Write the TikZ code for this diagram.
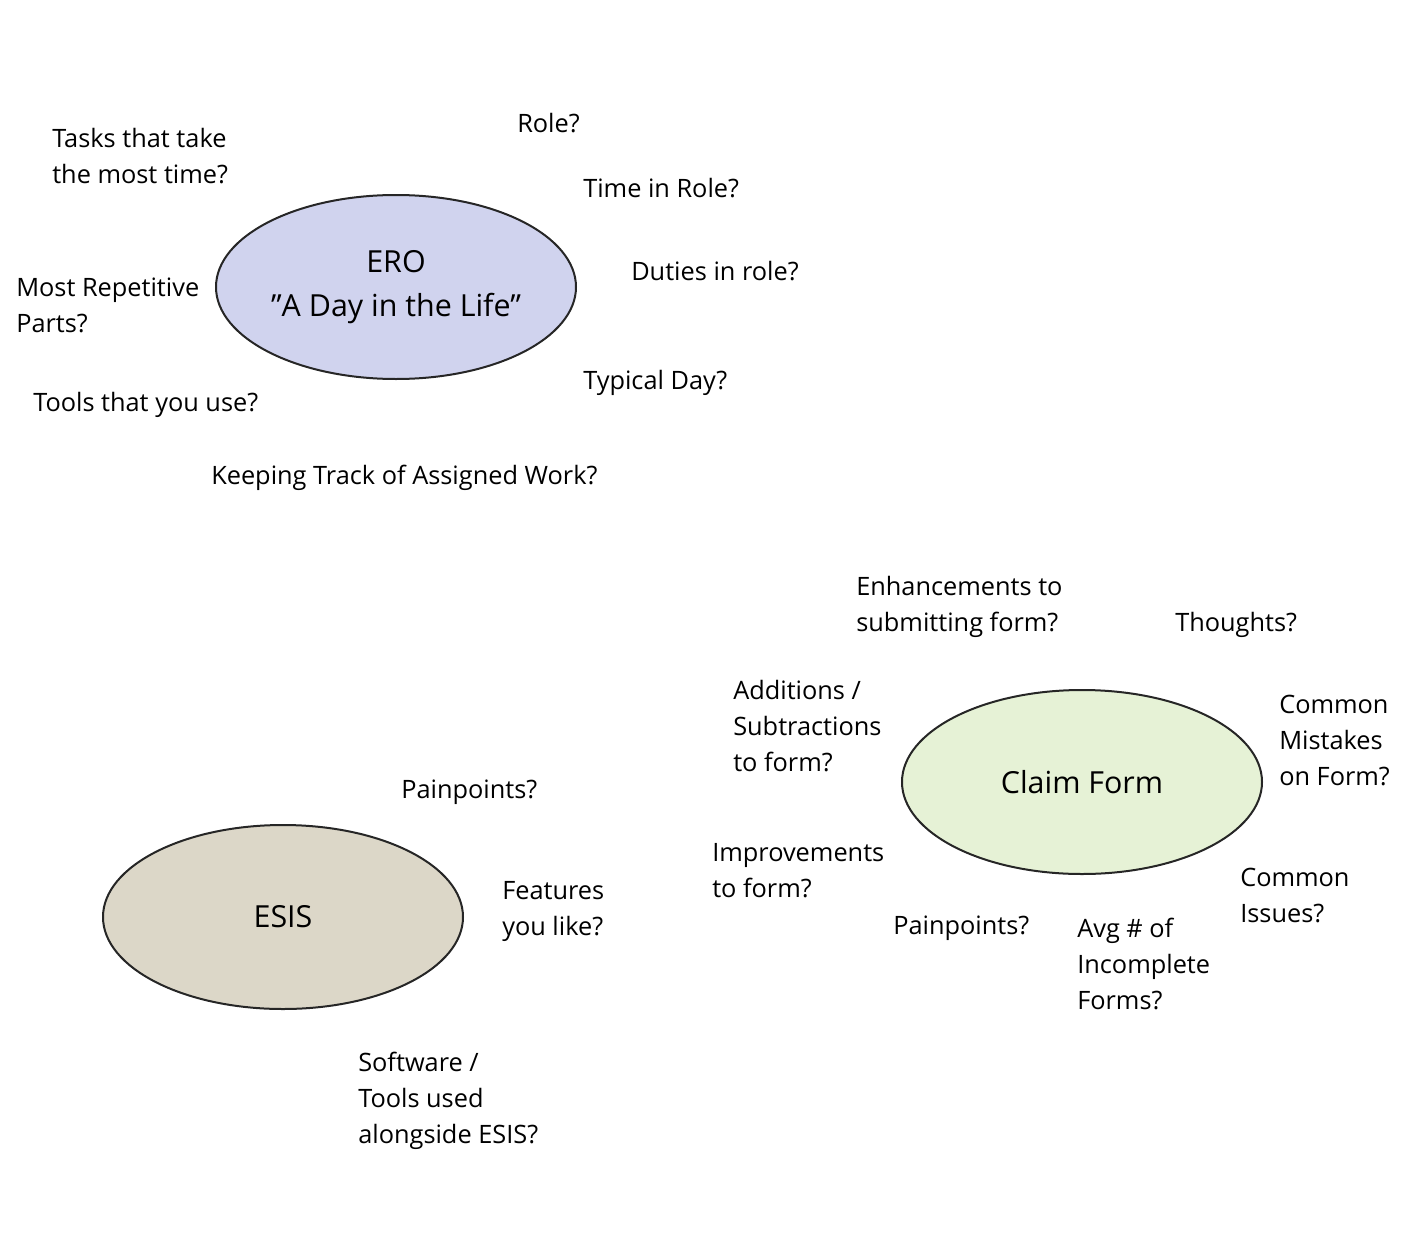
\documentclass[tikz,border=0pt]{standalone}
\usetikzlibrary{shapes.geometric}
\usepackage{fontspec}
\setmainfont{Open Sans}[Ligatures=NoCommon]
\begin{document}
\begin{tikzpicture}[x=0.75pt,y=-0.75pt,
  q/.style={anchor=west,inner sep=0pt,align=left,font=\fontsize{19}{27}\selectfont},
  hub/.style={ellipse,draw=black!85,line width=1.5pt,minimum width=270pt,minimum height=138pt,inner sep=0pt,align=center,font=\fontsize{22.8}{33}\selectfont}]
\useasboundingbox (0,0) rectangle (1420,1238);
\definecolor{ero}{HTML}{D0D3EE}
\definecolor{esis}{HTML}{DCD7C8}
\definecolor{claim}{HTML}{E6F2D6}
\node[hub,fill=ero] (ero) at (396,287) {ERO\\\symbol{34}A Day in the Life\symbol{34}};
\node[hub,fill=esis] (esis) at (283,917) {ESIS};
\node[hub,fill=claim] (claim) at (1082,782) {Claim Form};
\newcommand{\qq}[4]{\node[q] (#1) at (#2,#3) {#4};}
\qq{a}{52}{156}{Tasks that take\\the most time?}
\qq{b}{517}{123}{Role?}
\qq{c}{583}{188}{Time in Role?}
\qq{d}{631}{271}{Duties in role?}
\qq{e}{16}{305}{Most Repetitive\\Parts?}
\qq{f}{583}{383}{Typical Day?}
\qq{g}{33}{405}{Tools that you use?}
\qq{h}{211}{478}{Keeping Track of Assigned Work?}
\qq{i}{856}{607}{Enhancements to\\submitting form?}
\qq{j}{1175}{625}{Thoughts?}
\qq{k}{733}{726}{Additions /\\Subtractions\\to form?}
\qq{l}{1279}{740}{Common\\Mistakes\\on Form?}
\qq{m}{401}{792}{Painpoints?}
\qq{n}{712}{871}{Improvements\\to form?}
\qq{o}{1240}{895}{Common\\Issues?}
\qq{p}{502}{911}{Features\\you like?}
\qq{r}{893}{928}{Painpoints?}
\qq{s}{1077}{964}{Avg \# of\\Incomplete\\Forms?}
\qq{t}{358}{1101}{Software /\\Tools used\\alongside ESIS?}
\end{tikzpicture}
\end{document}
